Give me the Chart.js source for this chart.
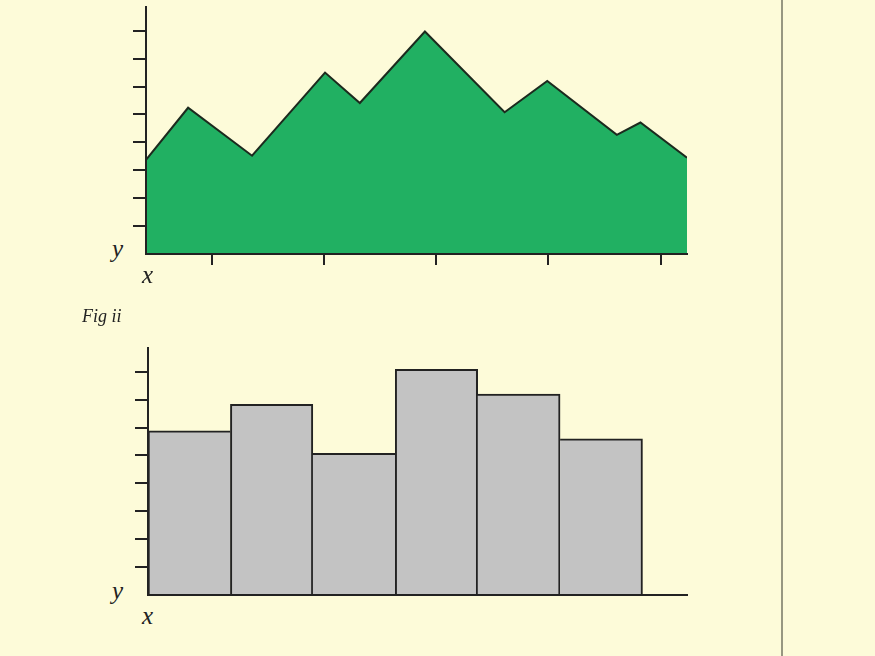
<!DOCTYPE html>
<html>
<head>
<meta charset="utf-8">
<script src="https://cdn.jsdelivr.net/npm/chart.js"></script>
<style>
  html, body { margin:0; padding:0; }
  body { width:875px; height:656px; background:#fdfbd9; position:relative; overflow:hidden; }
  canvas { position:absolute; }
  .lbl { position:absolute; font-family:"Liberation Serif", serif; font-style:italic; color:#222; line-height:1; }
  .big { font-size:25px; }
  .fig { font-size:18px; }
  #rule { position:absolute; left:781px; top:0; width:2px; height:656px; background:#979781; }
</style>
</head>
<body>
<div id="wrapTop" style="position:absolute;left:128px;top:2px;width:564px;height:268px;"><canvas id="areaChart"></canvas></div>
<div id="wrapBot" style="position:absolute;left:130px;top:343px;width:562px;height:257px;"><canvas id="barChart"></canvas></div>

<div class="lbl big" style="left:112px;top:236px;">y</div>
<div class="lbl big" style="left:142px;top:262px;">x</div>
<div class="lbl fig" style="left:82px;top:307px;">Fig ii</div>
<div class="lbl big" style="left:112px;top:578px;">y</div>
<div class="lbl big" style="left:142px;top:603px;">x</div>
<div id="rule"></div>

<script>
// values (y in tick steps)
var areaX = [0.415, 0.79, 1.36, 2.01, 2.32, 2.90, 3.61, 3.99, 4.61, 4.82, 5.235];
var areaY = [3.37, 5.24, 3.52, 6.50, 5.41, 7.97, 5.08, 6.20, 4.27, 4.71, 3.45];
var xTicks = [1, 2, 3, 4, 5];
var yTicks = [1, 2, 3, 4, 5, 6, 7, 8];
var barX = [0.5, 1.5, 2.5, 3.5, 4.5, 5.5];
var barValues = [5.88, 6.83, 5.08, 8.09, 7.20, 5.60];

var ink = "#222";

function yAxis(){
    return {
        type: 'linear', min: 0, max: 8.85,
        afterBuildTicks: function(ax){ ax.ticks = yTicks.map(function(v){ return {value: v}; }); },
        ticks: { display: false },
        grid: { drawOnChartArea: false, drawTicks: true, tickLength: 13, color: ink, lineWidth: 2 },
        border: { display: true, color: ink, width: 2, z: 1 }
    };
}

// one 2px line between neighbouring bars, drawn by the taller one
function barBorder(c){
    var i = c.dataIndex, v = barValues;
    return {
        top: 2, bottom: 0,
        left: (i === 0 || v[i-1] <= v[i]) ? 2 : 0,
        right: (i === v.length - 1 || v[i+1] < v[i]) ? 2 : 0
    };
}

function chartArea(){
    var ctx = document.getElementById("areaChart");
    var pts = areaX.map(function(x, i){ return {x: x, y: areaY[i]}; });
    new Chart(ctx, {
        type: 'line',
        data: {
            datasets: [{
                data: pts,
                fill: 'origin',
                backgroundColor: '#21b062',
                borderColor: '#1c2a1e',
                borderWidth: 2,
                pointRadius: 0,
                tension: 0,
                borderJoinStyle: 'miter'
            }]
        },
        options: {
            responsive: true,
            maintainAspectRatio: false,
            animation: false,
            layout: { padding: 5 },
            plugins: { legend: { display: false }, tooltip: { enabled: false } },
            scales: {
                x: {
                    type: 'linear', min: 0.415, max: 5.235,
                    afterBuildTicks: function(ax){ ax.ticks = xTicks.map(function(v){ return {value: v}; }); },
                    ticks: { display: false },
                    grid: { drawOnChartArea: false, drawTicks: true, tickLength: 11, color: ink, lineWidth: 2 },
                    border: { display: true, color: ink, width: 2, z: 1 }
                },
                y: yAxis()
            }
        }
    });
}

function chartBars(){
    var ctx = document.getElementById("barChart");
    var pts = barX.map(function(x, i){ return {x: x, y: barValues[i]}; });
    new Chart(ctx, {
        type: 'bar',
        data: {
            datasets: [{
                data: pts,
                backgroundColor: '#c3c3c3',
                borderColor: ink,
                borderWidth: barBorder,
                borderSkipped: false,
                barPercentage: 1,
                categoryPercentage: 1
            }]
        },
        options: {
            responsive: true,
            maintainAspectRatio: false,
            animation: false,
            layout: { padding: 5 },
            plugins: { legend: { display: false }, tooltip: { enabled: false } },
            scales: {
                x: {
                    type: 'linear', min: 0, max: 6.54,
                    offset: false,
                    // hidden ticks on the bar edges, so the bar ruler uses one bar per unit
                    afterBuildTicks: function(ax){ ax.ticks = barX.map(function(v){ return {value: v - 0.5}; }); },
                    ticks: { display: false },
                    grid: { display: false, drawTicks: false, offset: false },
                    border: { display: true, color: ink, width: 2, z: 1 }
                },
                y: yAxis()
            }
        }
    });
}

chartArea();
chartBars();
</script>
</body>
</html>
